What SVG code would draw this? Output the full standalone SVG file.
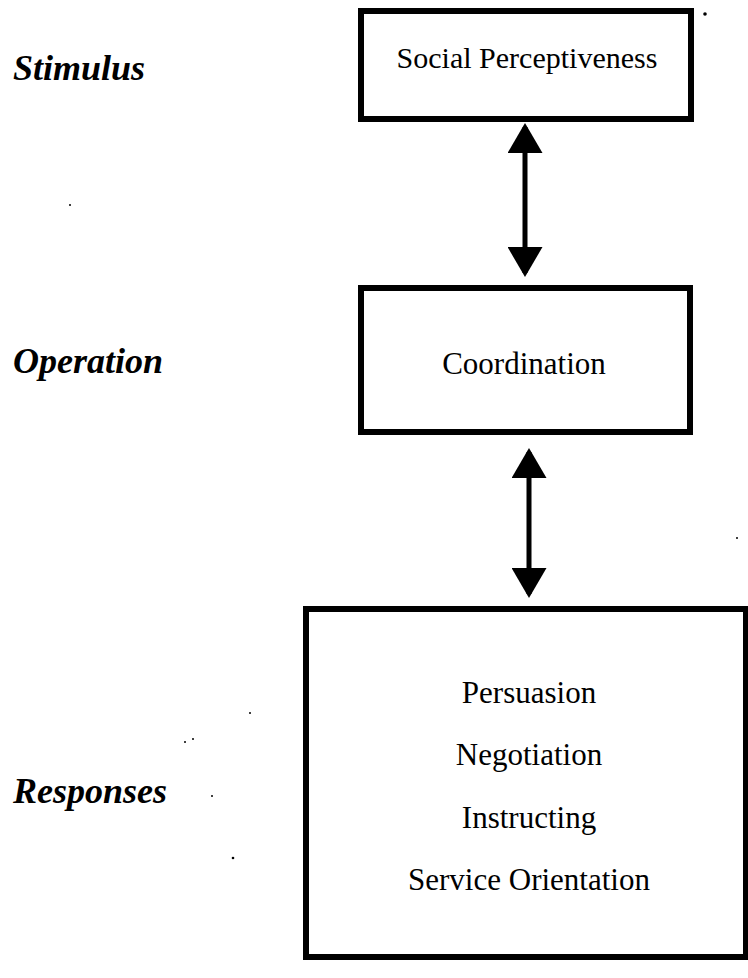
<svg xmlns="http://www.w3.org/2000/svg" width="748" height="978" viewBox="0 0 748 978">
  <style>
    .box { fill: #ffffff; stroke: #000000; stroke-width: 6; }
    .txt { font-family: "Liberation Serif", "Times New Roman", serif; font-size: 31px; fill: #000000; text-anchor: middle; }
    .lbl { font-family: "Liberation Serif", "Times New Roman", serif; font-size: 36px; font-weight: bold; font-style: italic; fill: #000000; }
    .link { stroke: #000000; stroke-width: 5; fill: none; marker-start: url(#head); marker-end: url(#head); }
    .speck { fill: #000000; }
  </style>
  <defs>
    <marker id="head" markerUnits="userSpaceOnUse" viewBox="0 0 30 35" markerWidth="30" markerHeight="35" refX="26" refY="17.5" orient="auto-start-reverse">
      <path d="M0,0 L30,17.5 L0,35 Z" fill="#000000"/>
    </marker>
  </defs>
  <rect width="748" height="978" fill="#ffffff"/>

  <!-- level labels -->
  <g id="labels">
    <text class="lbl" x="13" y="80">Stimulus</text>
    <text class="lbl" x="13" y="373">Operation</text>
    <text class="lbl" x="13" y="803">Responses</text>
  </g>

  <!-- stimulus node -->
  <g id="node-stimulus">
    <rect class="box" x="361" y="11" width="330" height="108"/>
    <text class="txt" x="527" y="68" style="font-size:30px">Social Perceptiveness</text>
  </g>

  <!-- operation node -->
  <g id="node-operation">
    <rect class="box" x="361" y="288" width="329" height="144"/>
    <text class="txt" x="524" y="374">Coordination</text>
  </g>

  <!-- responses node -->
  <g id="node-responses">
    <rect class="box" x="306" y="609" width="440" height="348"/>
    <text class="txt" x="529" y="703">Persuasion</text>
    <text class="txt" x="529" y="765">Negotiation</text>
    <text class="txt" x="529" y="828">Instructing</text>
    <text class="txt" x="529" y="890">Service Orientation</text>
  </g>

  <!-- two-way connectors -->
  <g id="connectors">
    <line class="link" x1="525" y1="127" x2="525" y2="273"/>
    <line class="link" x1="529" y1="452" x2="529" y2="594"/>
  </g>

  <!-- small specks -->
  <g id="specks">
    <circle class="speck" cx="705" cy="14" r="1.8"/>
    <circle class="speck" cx="70" cy="205" r="1"/>
    <circle class="speck" cx="250" cy="713" r="1"/>
    <circle class="speck" cx="185" cy="742" r="1"/>
    <circle class="speck" cx="193" cy="739" r="1"/>
    <circle class="speck" cx="212" cy="796" r="1"/>
    <circle class="speck" cx="233" cy="858" r="1.3"/>
    <circle class="speck" cx="737" cy="538" r="1"/>
  </g>
</svg>
